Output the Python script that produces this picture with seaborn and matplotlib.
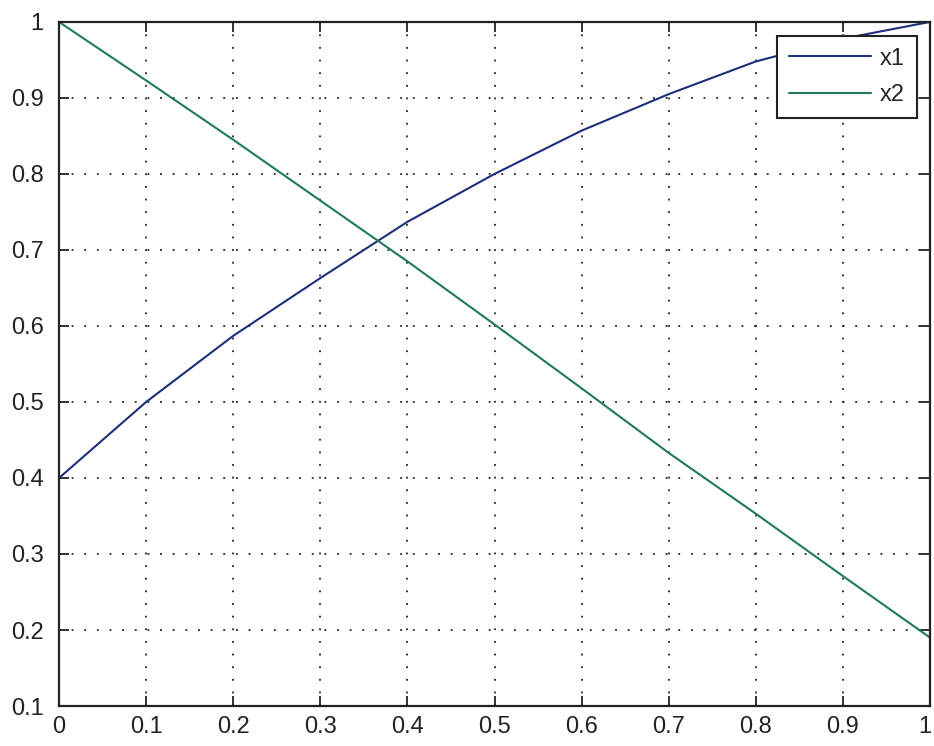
import matplotlib
matplotlib.use("Agg")
import matplotlib.pyplot as plt
import matplotlib.transforms as mtransforms
import seaborn as sns
import numpy as np

# values
t = [0.0, 0.1, 0.2, 0.3, 0.4, 0.5, 0.6, 0.7, 0.8, 0.9, 1.0]
x1 = [0.40, 0.50, 0.587, 0.663, 0.737, 0.800, 0.857, 0.905, 0.948, 0.978, 1.0]
x2 = [1.0, 0.923, 0.845, 0.765, 0.685, 0.602, 0.518, 0.433, 0.353, 0.271, 0.19]
xticks = [0, 0.1, 0.2, 0.3, 0.4, 0.5, 0.6, 0.7, 0.8, 0.9, 1]
xlabels = ["0", "0.1", "0.2", "0.3", "0.4", "0.5", "0.6", "0.7", "0.8", "0.9", "1"]
yticks = [0.1, 0.2, 0.3, 0.4, 0.5, 0.6, 0.7, 0.8, 0.9, 1]
ylabels = ["0.1", "0.2", "0.3", "0.4", "0.5", "0.6", "0.7", "0.8", "0.9", "1"]

sns.set_style("ticks")
plt.rcParams["font.family"] = ["Liberation Sans", "DejaVu Sans"]

fig = plt.figure(figsize=(9.34, 7.46), dpi=100)
ax = fig.add_axes([0.0632, 0.0536, 0.9325, 0.917])

sns.lineplot(x=t, y=x1, ax=ax, color="#1c2f78", linewidth=1.5, label="x1")
sns.lineplot(x=t, y=x2, ax=ax, color="#1f7a5c", linewidth=1.5, label="x2")

ax.set_xlim(0, 1)
ax.set_ylim(0.1, 1)
ax.set_xticks(xticks)
ax.set_xticklabels(xlabels)
ax.set_yticks(yticks)
ax.set_yticklabels(ylabels)
ax.tick_params(direction="in", length=7, width=1.3, labelsize=17, colors="#222222",
               top=True, right=True)
ax.tick_params(axis="x", pad=7)
ax.tick_params(axis="y", pad=11)
ax.grid(True, linestyle=(0, (1, 6)), color="#222222", linewidth=1.3)
for s in ax.spines.values():
    s.set_linewidth(1.6)
    s.set_color("#222222")

# last x label sits at the right edge, nudge it in a little so it is not clipped
last = ax.get_xticklabels()[-1]
last.set_transform(last.get_transform() + mtransforms.ScaledTranslation(-5 / 100, 0, fig.dpi_scale_trans))

leg = ax.legend(loc="upper left", bbox_to_anchor=(0.824, 0.9795), borderaxespad=0,
                fontsize=17, frameon=True, fancybox=False, handlelength=3.5,
                borderpad=0.5, labelspacing=0.62, handletextpad=0.38)
leg.get_frame().set_edgecolor("#222222")
leg.get_frame().set_linewidth(1.5)
leg.get_frame().set_alpha(1)

fig.savefig("out.png", dpi=100)
